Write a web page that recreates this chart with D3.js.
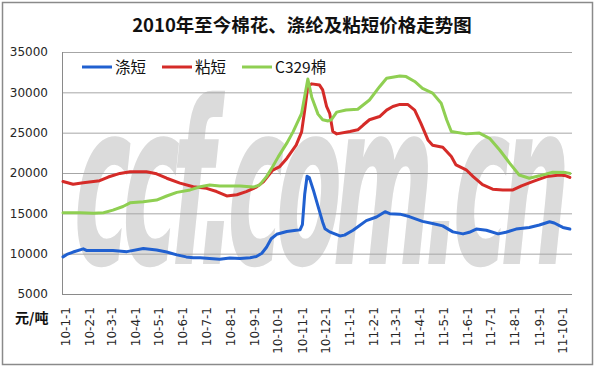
<!DOCTYPE html>
<html><head><meta charset="utf-8">
<script src="https://cdn.jsdelivr.net/npm/d3@7"></script>
<style>body{margin:0;background:#fff}svg{display:block}</style>
</head><body>
<svg id="chart" width="596" height="367"></svg>
<script>
const titleText = "2010年至今棉花、涤纶及粘短价格走势图";
const unitLabel = "元/吨";
const watermarkText = "ccf.com.cn";
const seriesNames = ["涤短", "粘短", "C329棉"];
const seriesColors = ["#2060d0", "#d52b28", "#8fcf52"];
const yTicks = [5000, 10000, 15000, 20000, 25000, 30000, 35000];
const xTickLabels = ["10-1-1","10-2-1","10-3-1","10-4-1","10-5-1","10-6-1","10-7-1","10-8-1","10-9-1","10-10-1","10-11-1","10-12-1","11-1-1","11-2-1","11-3-1","11-4-1","11-5-1","11-6-1","11-7-1","11-8-1","11-9-1","11-10-1"];

// 涤短 (polyester staple)
const polyesterDates = ["2010-01-01","2010-01-06","2010-01-14","2010-01-27","2010-01-31","2010-02-17","2010-03-06","2010-03-24","2010-04-14","2010-05-01","2010-05-14","2010-05-27","2010-06-08","2010-06-17","2010-06-26","2010-07-08","2010-07-21","2010-08-03","2010-08-16","2010-08-29","2010-09-06","2010-09-13","2010-09-19","2010-09-25","2010-10-02","2010-10-15","2010-10-27","2010-11-01","2010-11-04","2010-11-07","2010-11-10","2010-11-13","2010-11-18","2010-11-24","2010-11-30","2010-12-03","2010-12-09","2010-12-22","2010-12-28","2011-01-08","2011-01-25","2011-02-07","2011-02-18","2011-02-24","2011-03-09","2011-03-21","2011-04-07","2011-04-20","2011-05-03","2011-05-16","2011-05-29","2011-06-06","2011-06-15","2011-06-28","2011-07-13","2011-07-23","2011-08-05","2011-08-22","2011-09-04","2011-09-17","2011-09-23","2011-10-04","2011-10-13"];
const polyesterValues = [9600,9900,10200,10600,10400,10400,10400,10250,10650,10450,10200,9850,9600,9500,9500,9400,9300,9450,9400,9500,9650,10050,10800,11850,12400,12750,12900,12950,13600,17400,19600,19400,17900,15900,13900,13100,12700,12200,12300,12900,14100,14550,15200,14950,14900,14600,14000,13750,13450,12700,12450,12650,13050,12900,12450,12650,13050,13250,13550,13950,13800,13250,13050];

// 粘短 (viscose staple)
const viscoseDates = ["2010-01-01","2010-01-14","2010-01-27","2010-02-17","2010-02-28","2010-03-15","2010-03-28","2010-04-18","2010-05-01","2010-05-14","2010-05-31","2010-06-17","2010-07-04","2010-07-17","2010-07-30","2010-08-12","2010-08-24","2010-09-06","2010-09-15","2010-09-27","2010-10-06","2010-10-15","2010-10-27","2010-11-03","2010-11-07","2010-11-11","2010-11-16","2010-11-26","2010-11-30","2010-12-05","2010-12-09","2010-12-13","2010-12-18","2011-01-04","2011-01-14","2011-01-21","2011-01-29","2011-02-11","2011-02-20","2011-02-28","2011-03-09","2011-03-19","2011-03-28","2011-04-05","2011-04-14","2011-04-20","2011-05-03","2011-05-14","2011-05-20","2011-06-02","2011-06-11","2011-06-23","2011-07-06","2011-07-19","2011-08-01","2011-08-12","2011-08-27","2011-09-13","2011-09-30","2011-10-08","2011-10-13"];
const viscoseValues = [18950,18600,18800,19050,19500,19950,20150,20150,19900,19350,18750,18300,18100,17700,17150,17300,17700,18250,18900,20350,20800,21800,23450,25100,27800,30800,31050,30900,30300,28250,27400,25150,24850,25150,25350,25950,26600,27000,27800,28250,28500,28500,27800,26150,24100,23450,23200,22050,21000,20400,19550,18550,18000,17900,17900,18400,18950,19550,19750,19650,19450];

// C329棉 (cotton)
const cottonDates = ["2010-01-01","2010-01-23","2010-02-09","2010-02-22","2010-03-06","2010-03-19","2010-03-28","2010-04-14","2010-05-01","2010-05-14","2010-05-27","2010-06-13","2010-06-26","2010-07-08","2010-07-21","2010-08-16","2010-09-02","2010-09-10","2010-09-19","2010-09-27","2010-10-04","2010-10-15","2010-10-23","2010-11-03","2010-11-11","2010-11-16","2010-11-24","2010-11-30","2010-12-07","2010-12-11","2010-12-18","2010-12-30","2011-01-14","2011-01-29","2011-02-11","2011-02-20","2011-03-09","2011-03-17","2011-03-28","2011-04-07","2011-04-20","2011-05-01","2011-05-08","2011-05-14","2011-06-02","2011-06-19","2011-07-02","2011-07-15","2011-07-28","2011-08-09","2011-08-22","2011-09-04","2011-09-21","2011-10-08","2011-10-13"];
const cottonValues = [15080,15080,15000,15080,15400,15850,16300,16450,16650,17150,17600,17900,18300,18500,18400,18400,18250,18500,19550,20800,22000,23700,25100,27400,31650,29400,27300,26600,26450,26600,27550,27800,27900,29050,30700,31750,32030,31950,31350,30500,29900,28650,26600,25150,24850,24950,24300,22850,21200,19750,19350,19650,20100,20050,19950];

const parseDate = d3.timeParse("%Y-%m-%d");
const labelDate = s => { const [yy, m, d] = s.split("-").map(Number); return new Date(2000 + yy, m - 1, d); };

const series = [
  { name: seriesNames[0], color: seriesColors[0], dates: polyesterDates, values: polyesterValues },
  { name: seriesNames[1], color: seriesColors[1], dates: viscoseDates, values: viscoseValues },
  { name: seriesNames[2], color: seriesColors[2], dates: cottonDates, values: cottonValues }
];

const svg = d3.select("#chart");
const W = 596, H = 367;
const plotLeft = 62, plotRight = 572, plotTop = 52, plotBottom = 294;

const x = d3.scaleTime().domain([new Date(2010, 0, 1), new Date(2011, 9, 1)]).range([63, 560.5]);
const y = d3.scaleLinear().domain([5000, 35000]).range([plotBottom, plotTop]);

svg.append("rect").attr("width", W).attr("height", H).attr("fill", "#fff");
svg.append("rect").attr("x", 2.5).attr("y", 2.5).attr("width", 590).attr("height", 362)
  .attr("fill", "none").attr("stroke", "#8a8a8a").attr("stroke-width", 1.5);

// watermark (italic look via skew)
svg.append("g").attr("transform", "translate(68,264) scale(1,2.4) skewX(-14)")
  .append("text").text(watermarkText)
  .attr("font-family", "'DejaVu Sans', sans-serif")
  .attr("font-weight", "bold")
  .attr("font-size", 95)
  .attr("textLength", 495).attr("lengthAdjust", "spacing")
  .attr("fill", "#dbdbdb");

// y axis with gridlines
const yAxis = d3.axisLeft(y).tickValues(yTicks).tickSize(-(plotRight - plotLeft)).tickPadding(14).tickFormat(d3.format("d"));
const gy = svg.append("g").attr("transform", `translate(${plotLeft},0)`).call(yAxis);
gy.select(".domain").remove();
gy.selectAll(".tick line").attr("stroke", "#a6a6a6").attr("stroke-width", 1);
gy.selectAll(".tick text").attr("font-family", "'DejaVu Sans', sans-serif").attr("font-size", 12).attr("fill", "#262626");

svg.append("line").attr("x1", plotLeft + 0.5).attr("x2", plotLeft + 0.5).attr("y1", plotTop).attr("y2", plotBottom)
  .attr("stroke", "#8a8a8a");
svg.append("line").attr("x1", plotLeft).attr("x2", plotRight).attr("y1", plotBottom + 0.5).attr("y2", plotBottom + 0.5)
  .attr("stroke", "#8a8a8a");

// x axis labels
const xAxis = d3.axisBottom(x).tickValues(xTickLabels.map(labelDate)).tickSize(0)
  .tickFormat((d, i) => xTickLabels[i]);
const gx = svg.append("g").attr("transform", `translate(0,${plotBottom})`).call(xAxis);
gx.select(".domain").remove();
gx.selectAll(".tick text")
  .attr("transform", "rotate(-90)")
  .attr("x", -13).attr("y", 0).attr("dy", "0.5em")
  .attr("text-anchor", "end")
  .attr("font-family", "'DejaVu Sans', sans-serif").attr("font-size", 12).attr("fill", "#262626");

// lines
const line = d3.line().x(d => x(d.date)).y(d => y(d.value));
series.forEach(s => {
  const pts = s.dates.map((d, i) => ({ date: parseDate(d), value: s.values[i] }));
  svg.append("path").datum(pts).attr("d", line)
    .attr("fill", "none").attr("stroke", s.color).attr("stroke-width", 3)
    .attr("stroke-linejoin", "round").attr("stroke-linecap", "round");
});

// title
svg.append("text").attr("x", 302).attr("y", 32).attr("text-anchor", "middle")
  .attr("font-family", "'Noto Sans CJK SC', sans-serif").attr("font-weight", "bold")
  .attr("font-size", 18.5).attr("fill", "#111").text(titleText);

// unit label
svg.append("text").attr("x", 15).attr("y", 323)
  .attr("font-family", "'Noto Sans CJK SC', sans-serif").attr("font-weight", "bold")
  .attr("font-size", 14).attr("fill", "#111").text(unitLabel);

// legend
const legendX = [82, 162, 242];
series.forEach((s, i) => {
  const g = svg.append("g").attr("transform", `translate(${legendX[i]},67)`);
  g.append("line").attr("x1", 0).attr("x2", 30).attr("y1", 0).attr("y2", 0)
    .attr("stroke", s.color).attr("stroke-width", 3);
  g.append("text").attr("x", 33).attr("y", 0).attr("dy", "0.36em")
    .attr("font-family", "'Noto Sans CJK SC', sans-serif").attr("font-size", 15.5)
    .attr("fill", "#111").text(s.name);
});
</script>
</body></html>
